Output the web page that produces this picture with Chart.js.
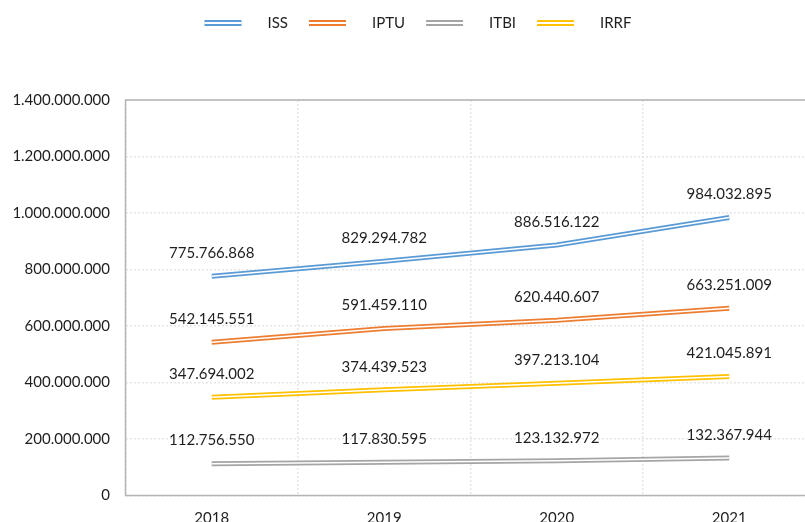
<!DOCTYPE html>
<html>
<head>
<meta charset="utf-8">
<script src="https://cdn.jsdelivr.net/npm/chart.js@4.4.1/dist/chart.umd.min.js"></script>
<style>
  html, body { margin: 0; padding: 0; overflow: hidden; background: #ffffff; }
  canvas { display: block; }
</style>
</head>
<body>
<canvas id="c" width="836" height="540"></canvas>
<script>
// Arrecadação por tributo, 2018–2021 (R$)
const years = ['2018', '2019', '2020', '2021'];
const iss  = [775766868, 829294782, 886516122, 984032895];
const iptu = [542145551, 591459110, 620440607, 663251009];
const itbi = [112756550, 117830595, 123132972, 132367944];
const irrf = [347694002, 374439523, 397213104, 421045891];

const seriesNames  = ['ISS', 'IPTU', 'ITBI', 'IRRF'];
const seriesValues = [iss, iptu, itbi, irrf];
const seriesColors = ['#5B9BD5', '#ED7D31', '#A5A5A5', '#FFC000'];

const yMin = 0;
const yMax = 1400000000;
const yStep = 200000000;

const TEXT_COLOR = '#1e1e1e';
const FONT_FAMILY = 'Lato, "Open Sans", sans-serif';
const FONT_SIZE = 15;
const GRID_COLOR = '#e6e6e6';

// thousands separated with dots, e.g. 1.400.000.000
const fmt = v => String(Math.round(v)).replace(/\B(?=(\d{3})+(?!\d))/g, '.');

Chart.defaults.font.family = FONT_FAMILY;
Chart.defaults.font.size = FONT_SIZE;
Chart.defaults.color = TEXT_COLOR;

// colored wide stroke + thin white stroke on top gives a double line
const outerLines = seriesValues.map((data, i) => ({
  label: seriesNames[i],
  data: data,
  borderColor: seriesColors[i],
  borderWidth: 5,
  borderCapStyle: 'butt',
  pointRadius: 0,
  pointHoverRadius: 0,
  tension: 0,
  fill: false,
  order: 1,
  isMain: true
}));
const innerLines = seriesValues.map((data, i) => ({
  label: seriesNames[i] + ' (interno)',
  data: data,
  borderColor: '#ffffff',
  borderWidth: 1.5,
  borderCapStyle: 'butt',
  pointRadius: 0,
  pointHoverRadius: 0,
  tension: 0,
  fill: false,
  order: 0,
  isMain: false
}));

// solid frame around the plot area (grid lines are dotted)
const plotFrame = {
  id: 'plotFrame',
  beforeDatasetsDraw(chart) {
    const { ctx, chartArea: a } = chart;
    ctx.save();
    ctx.setLineDash([]);
    ctx.strokeStyle = '#b4b4b4';
    ctx.lineWidth = 1.5;
    ctx.beginPath();
    ctx.moveTo(a.right, a.top);
    ctx.lineTo(a.left, a.top);
    ctx.lineTo(a.left, a.bottom);
    ctx.lineTo(a.right, a.bottom);
    ctx.stroke();
    ctx.restore();
  }
};

// value labels above each point
const valueLabels = {
  id: 'valueLabels',
  afterDatasetsDraw(chart) {
    const { ctx } = chart;
    ctx.save();
    ctx.font = FONT_SIZE + 'px ' + FONT_FAMILY;
    ctx.fillStyle = TEXT_COLOR;
    ctx.textAlign = 'center';
    ctx.textBaseline = 'middle';
    chart.data.datasets.forEach((ds, di) => {
      if (!ds.isMain) return;
      const meta = chart.getDatasetMeta(di);
      meta.data.forEach((pt, j) => {
        ctx.fillText(fmt(ds.data[j]), pt.x, pt.y - 23);
      });
    });
    ctx.restore();
  }
};

// legend with double-line samples, centered at the top
const doubleLineLegend = {
  id: 'doubleLineLegend',
  afterDraw(chart) {
    const { ctx } = chart;
    const items = chart.data.datasets.filter(d => d.isMain);
    const sampleW = 37, gap = 26, pad = 21, y = 23;
    ctx.save();
    ctx.font = FONT_SIZE + 'px ' + FONT_FAMILY;
    const widths = items.map(d => sampleW + gap + ctx.measureText(d.label).width);
    const total = widths.reduce((s, w) => s + w, 0) + pad * (items.length - 1);
    let x = (chart.width - total) / 2;
    items.forEach((d, i) => {
      ctx.lineCap = 'butt';
      ctx.strokeStyle = d.borderColor;
      ctx.lineWidth = 6;
      ctx.beginPath(); ctx.moveTo(x, y); ctx.lineTo(x + sampleW, y); ctx.stroke();
      ctx.strokeStyle = '#ffffff';
      ctx.lineWidth = 2;
      ctx.beginPath(); ctx.moveTo(x, y); ctx.lineTo(x + sampleW, y); ctx.stroke();
      ctx.fillStyle = TEXT_COLOR;
      ctx.textAlign = 'left';
      ctx.textBaseline = 'middle';
      ctx.fillText(d.label, x + sampleW + gap, y);
      x += widths[i] + pad;
    });
    ctx.restore();
  }
};

new Chart(document.getElementById('c'), {
  type: 'line',
  data: {
    labels: years,
    datasets: outerLines.concat(innerLines)
  },
  options: {
    responsive: false,
    animation: false,
    events: [],
    layout: { padding: { top: 100, right: 20.5, bottom: 0, left: 0 } },
    plugins: {
      legend: { display: false },
      tooltip: { enabled: false }
    },
    scales: {
      x: {
        offset: true,
        grid: {
          offset: true,
          drawTicks: false,
          color: GRID_COLOR,
          lineWidth: 1.5
        },
        border: { display: false, dash: [2, 2] },
        ticks: { padding: 14, color: TEXT_COLOR },
        afterFit(scale) { scale.height = 44.5; }
      },
      y: {
        min: yMin,
        max: yMax,
        ticks: {
          stepSize: yStep,
          padding: 15.5,
          color: TEXT_COLOR,
          callback: v => fmt(v)
        },
        grid: {
          drawTicks: false,
          color: GRID_COLOR,
          lineWidth: 1.5
        },
        border: { display: false, dash: [2, 2] },
        afterFit(scale) { scale.width = 125.5; }
      }
    }
  },
  plugins: [plotFrame, valueLabels, doubleLineLegend]
});
</script>
</body>
</html>
